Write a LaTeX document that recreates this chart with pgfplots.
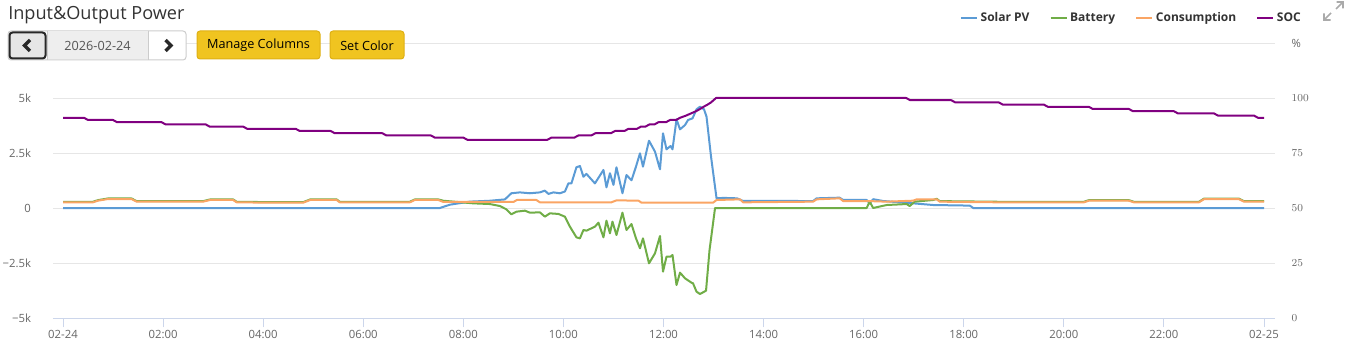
\documentclass[border=0pt]{standalone}
\usepackage{fontspec}
\setmainfont{Open Sans}
\usepackage{pgfplots}
\pgfplotsset{compat=1.18}
\definecolor{solar}{RGB}{91,155,213}
\definecolor{batt}{RGB}{112,173,71}
\definecolor{cons}{RGB}{250,165,100}
\definecolor{soc}{RGB}{128,0,128}
\definecolor{gridgray}{RGB}{230,230,230}
\definecolor{axisblue}{RGB}{204,214,235}
\definecolor{labelgray}{RGB}{102,102,102}
\definecolor{txt}{RGB}{51,51,51}
\definecolor{btnyellow}{RGB}{240,196,32}
\definecolor{btnborder}{RGB}{222,176,20}
\definecolor{boxborder}{RGB}{204,204,204}
\definecolor{midfill}{RGB}{238,238,238}
\definecolor{leftfill}{RGB}{230,230,230}
\definecolor{darkline}{RGB}{40,40,40}
\definecolor{datetxt}{RGB}{85,85,85}
\definecolor{icongray}{RGB}{170,170,170}
\begin{document}
\begin{tikzpicture}
\useasboundingbox (0,0) rectangle (1012.5pt,265.5pt);
\begin{axis}[
  at={(39.75pt,27pt)}, anchor=south west,
  scale only axis, width=916.5pt, height=206.25pt,
  xmin=-0.2, xmax=24.22, ymin=-5000, ymax=7500,
  xtick={0,2,...,24},
  xticklabels={02-24,02:00,04:00,06:00,08:00,10:00,12:00,14:00,16:00,18:00,20:00,22:00,02-25},
  ytick={-5000,-2500,0,2500,5000,7500},
  yticklabels={−5k,−2.5k,0,2.5k,5k,{}},
  ymajorgrids, grid style={draw=gridgray, line width=0.75pt},
  axis x line*=bottom, axis y line*=left,
  x axis line style={draw=axisblue, line width=0.75pt, -},
  y axis line style={draw=none},
  xtick style={draw=axisblue, line width=0.75pt},
  ytick style={draw=none},
  tick align=outside, major tick length=7pt,
  ticklabel style={font=\fontsize{8.5}{10}\selectfont, text=labelgray},
  yticklabel style={xshift=-6pt},
  xticklabel style={yshift=1pt},
  legend style={at={(1.0235,1.0909)}, anchor=east, draw=none, fill=none,
    legend columns=4, font=\fontsize{9}{11}\selectfont\bfseries, text=txt,
    inner sep=0pt, /tikz/every even column/.append style={column sep=13pt}},
  legend image code/.code={\draw[#1, line width=1.5pt] (0pt,0pt) -- (12pt,0pt);},
  every axis plot/.append style={line width=1.5pt, line join=round},
]
\addplot[solar] coordinates {
(0,0) (7.53,0) (7.73,150) (8.13,290) (8.53,330) (8.83,390) (8.96,670) (9.13,710) (9.33,670) (9.53,710) (9.63,790) (9.7,640) (9.8,710) (9.93,670) (10.03,750) (10.1,1120) (10.16,1120) (10.26,1850) (10.33,1910) (10.4,1420) (10.46,1550) (10.63,1120) (10.8,1730) (10.86,940) (10.93,1580) (11.0,1050) (11.06,1850) (11.18,670) (11.26,1500) (11.36,1260) (11.45,1880) (11.53,2485) (11.59,1880) (11.71,3060) (11.83,2560) (11.93,1760) (11.99,3395) (12.06,2667) (12.14,2818) (12.18,2667) (12.26,4030) (12.33,3576) (12.43,3770) (12.49,4000) (12.58,4076) (12.66,4485) (12.73,4606) (12.81,4485) (12.86,4150) (12.95,2333) (13.06,440) (13.2,460) (13.47,440) (13.59,320) (14.99,318) (15.06,440) (15.52,470) (15.59,364) (16.06,364) (16.12,212) (16.19,400) (16.39,318) (16.99,212) (17.39,136) (18.12,109) (18.19,0) (24,0)
};
\addlegendentry{Solar PV}
\addplot[batt] coordinates {
(0,283) (0.6,283) (0.7,358) (0.9,434) (1.37,434) (1.47,313) (2.8,313) (2.94,389) (3.4,389) (3.47,283) (4.14,267) (4.8,267) (4.94,389) (5.47,389) (5.53,283) (6.93,283) (7.03,389) (7.5,389) (7.6,330) (8.2,212) (8.53,180) (8.73,90) (8.86,-60) (8.96,-288) (9.06,-167) (9.23,-121) (9.33,-212) (9.53,-197) (9.63,-394) (9.73,-242) (9.9,-270) (10.03,-394) (10.13,-848) (10.26,-1333) (10.33,-1380) (10.4,-1000) (10.46,-1030) (10.63,-848) (10.7,-667) (10.8,-1333) (10.86,-576) (10.93,-1150) (10.98,-620) (11.06,-1227) (11.18,-212) (11.26,-1000) (11.36,-727) (11.45,-1380) (11.53,-1833) (11.59,-1380) (11.71,-2515) (11.83,-2060) (11.93,-1273) (11.99,-2894) (12.06,-2212) (12.14,-2212) (12.18,-2136) (12.26,-3500) (12.33,-2939) (12.43,-3197) (12.56,-3394) (12.59,-3424) (12.66,-3803) (12.73,-3909) (12.85,-3758) (12.92,-1909) (13.03,0) (16.06,0) (16.12,288) (16.19,0) (16.46,136) (16.86,180) (16.92,90) (17.02,288) (17.39,364) (17.46,419) (17.52,313) (18.72,283) (20.4,283) (20.5,355) (21.3,355) (21.4,283) (22.7,283) (22.8,425) (23.5,425) (23.6,313) (24,313)
};
\addlegendentry{Battery}
\addplot[cons] coordinates {
(0,258) (0.6,258) (0.7,333) (0.9,409) (1.37,409) (1.47,288) (2.8,288) (2.94,364) (3.4,364) (3.47,258) (4.14,242) (4.8,242) (4.94,364) (5.47,364) (5.53,258) (6.93,258) (7.03,364) (7.5,364) (7.6,273) (9.0,273) (9.07,364) (9.46,364) (9.53,258) (10.96,258) (11.06,348) (11.5,333) (11.56,242) (12.99,242) (13.06,364) (13.53,394) (13.59,258) (14.99,288) (15.06,394) (15.52,440) (15.59,318) (16.06,318) (16.46,288) (16.99,333) (17.06,394) (17.46,394) (17.52,288) (18.72,258) (20.4,258) (20.5,330) (21.3,330) (21.4,258) (22.7,258) (22.8,400) (23.5,400) (23.6,288) (24,288)
};
\addlegendentry{Consumption}
\addlegendimage{soc}
\addlegendentry{SOC}
\end{axis}
\begin{axis}[
  at={(39.75pt,27pt)}, anchor=south west,
  scale only axis, width=916.5pt, height=206.25pt,
  xmin=-0.2, xmax=24.22, ymin=0, ymax=125,
  hide x axis, axis y line*=right,
  y axis line style={draw=none}, ytick style={draw=none},
  ytick={0,25,50,75,100},
  extra y ticks={125}, extra y tick labels={\%},
  extra y tick style={ytick style={draw=none}},
  ticklabel style={font=\fontsize{8.5}{10}\selectfont, text=labelgray},
  yticklabel style={anchor=west, xshift=9pt},
  every axis plot/.append style={line width=1.5pt, line join=round},
]
\addplot[soc] coordinates {
(0,91) (0.42,91) (0.5,90) (1.0,90) (1.08,89) (1.97,89) (2.05,88) (2.85,88) (2.93,87) (3.6,87) (3.68,86) (4.65,86) (4.73,85) (5.35,85) (5.43,84) (6.38,84) (6.46,83) (7.35,83) (7.43,82) (8.0,82) (8.08,81) (9.68,81) (9.76,82) (10.22,82) (10.3,83) (10.56,83) (10.64,84) (10.95,84) (11.03,85) (11.22,85) (11.3,86) (11.47,86) (11.55,87) (11.64,87) (11.72,88) (11.82,88) (11.9,89) (12.05,89) (12.13,90) (12.25,90) (12.33,91) (12.45,92) (12.55,93) (12.65,94) (12.73,95) (12.8,96) (12.88,97) (12.95,98) (13.05,100) (16.85,100) (16.93,99) (17.75,99) (17.83,98) (18.7,98) (18.78,97) (19.6,97) (19.68,96) (20.5,96) (20.58,95) (21.3,95) (21.38,94) (22.2,94) (22.28,93) (23.0,93) (23.08,92) (23.8,92) (23.88,91) (24,91)
};
\end{axis}
\begin{scope}[x=0.75pt,y=-0.75pt,yshift=265.5pt]
  \node[anchor=base west, inner sep=0pt, text=txt, font=\fontsize{13.6}{15}\selectfont] at (8,20) {Input\&Output Power};
  % date picker
  \draw[draw=boxborder, fill=white, rounded corners=2.25pt, line width=0.75pt] (8,31) rectangle (186,60);
  \fill[midfill] (47,31.5) rectangle (148,59.5);
  \draw[boxborder, line width=0.75pt] (47,31) -- (47,60) (148,31) -- (148,60);
  \draw[draw=darkline, fill=leftfill, rounded corners=2.25pt, line width=1.5pt] (9.5,32.5) rectangle (45.5,58.5);
  \draw[line width=2.4pt, darkline] (30,40) -- (24.5,45.5) -- (30,51);
  \draw[line width=2.4pt, darkline] (165.5,40) -- (171,45.5) -- (165.5,51);
  \node[text=datetxt, font=\fontsize{9.5}{11}\selectfont] at (97.5,45.5) {2026-02-24};
  % yellow buttons
  \draw[draw=btnborder, fill=btnyellow, rounded corners=2.25pt, line width=0.75pt] (197,31) rectangle (320,59);
  \node[text=black, font=\fontsize{9.5}{11}\selectfont] at (258.5,45.5) {Manage Columns};
  \draw[draw=btnborder, fill=btnyellow, rounded corners=2.25pt, line width=0.75pt] (330,31) rectangle (404,59);
  \node[text=black, font=\fontsize{9.5}{11}\selectfont] at (367,45.5) {Set Color};
  % expand icon
  \draw[icongray, line width=1.3pt] (1331,13) -- (1324,20) (1324,13.5) -- (1324,20) -- (1330.5,20);
  \draw[icongray, line width=1.3pt] (1336,9) -- (1343,2) (1336.5,2) -- (1343,2) -- (1343,8.5);
\end{scope}
\end{tikzpicture}
\end{document}
